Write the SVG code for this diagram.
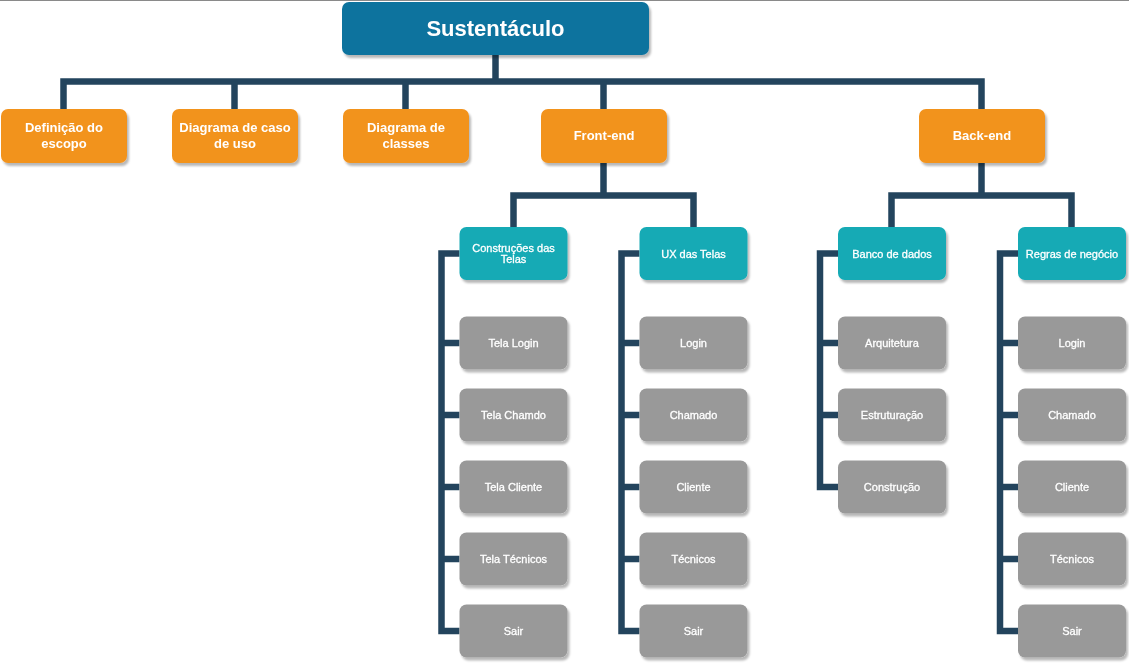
<svg xmlns="http://www.w3.org/2000/svg" width="1129" height="669" viewBox="0 0 1129 669">
<defs>
<filter id="sh" x="-10%" y="-10%" width="130%" height="140%">
<feDropShadow dx="2" dy="3" stdDeviation="0.8" flood-color="#000" flood-opacity="0.28"/>
</filter>
<style>
.c{fill:none;stroke:#23445D;stroke-width:6.5;stroke-linejoin:miter;stroke-linecap:butt}
.box{filter:url(#sh)}
.top{fill:#10739E}
.or{fill:#F2931E}
.tl{fill:#12AAB5}
.gr{fill:#999999}
text{font-family:"Liberation Sans",Arial,sans-serif;fill:#fff;text-anchor:middle}
.t0{font-size:22px;font-weight:bold}
.t1{font-size:13px;font-weight:bold}
.t2{font-size:11px;stroke:#fff;stroke-width:0.3}
</style>
</defs>
<rect x="0" y="0" width="1129" height="669" fill="#fff"/>
<line x1="0" y1="0.5" x2="1129" y2="0.5" stroke="#8a8a8a" stroke-width="1"/>
<g id="connectors">
<path class="c" d="M495.5,55 V81.5"/>
<path class="c" d="M63.5,109 V81.5 H981.5 V109"/>
<path class="c" d="M234.5,81.5 V109"/>
<path class="c" d="M405.5,81.5 V109"/>
<path class="c" d="M603.5,81.5 V109"/>
<path class="c" d="M603.5,163 V195.5"/>
<path class="c" d="M513.5,227 V195.5 H693.5 V227"/>
<path class="c" d="M981.5,163 V195.5"/>
<path class="c" d="M891.5,227 V195.5 H1071.5 V227"/>
<path class="c" d="M459.5,253.5 H441.5 V631 H459.5 M441.5,343 H459.5 M441.5,415 H459.5 M441.5,487 H459.5 M441.5,559 H459.5"/>
<path class="c" d="M639.5,253.5 H621.5 V631 H639.5 M621.5,343 H639.5 M621.5,415 H639.5 M621.5,487 H639.5 M621.5,559 H639.5"/>
<path class="c" d="M838,253.5 H820 V487 H838 M820,343 H838 M820,415 H838"/>
<path class="c" d="M1018,253.5 H1000 V631 H1018 M1000,343 H1018 M1000,415 H1018 M1000,487 H1018 M1000,559 H1018"/>
</g>
<g id="n-root" class="box"><rect class="top" x="342" y="2" width="307" height="53" rx="7"/><text class="t0" x="495.5" y="36">Sustentáculo</text></g>
<g id="n-escopo" class="box"><rect class="or" x="1" y="109" width="126" height="54" rx="7"/><text class="t1" x="64" y="132">Definição do</text><text class="t1" x="64" y="147.5">escopo</text></g>
<g id="n-caso" class="box"><rect class="or" x="172" y="109" width="126" height="54" rx="7"/><text class="t1" x="235" y="132">Diagrama de caso</text><text class="t1" x="235" y="147.5">de uso</text></g>
<g id="n-classes" class="box"><rect class="or" x="343" y="109" width="126" height="54" rx="7"/><text class="t1" x="406" y="132">Diagrama de</text><text class="t1" x="406" y="147.5">classes</text></g>
<g id="n-front" class="box"><rect class="or" x="541" y="109" width="126" height="54" rx="7"/><text class="t1" x="604" y="140">Front-end</text></g>
<g id="n-back" class="box"><rect class="or" x="919" y="109" width="126" height="54" rx="7"/><text class="t1" x="982" y="140">Back-end</text></g>
<g id="n-construcoes" class="box"><rect class="tl" x="459.5" y="227" width="108" height="53" rx="7"/><text class="t2" x="513.5" y="251.5">Construções das</text><text class="t2" x="513.5" y="263">Telas</text></g>
<g id="n-ux" class="box"><rect class="tl" x="639.5" y="227" width="108" height="53" rx="7"/><text class="t2" x="693.5" y="257.5">UX das Telas</text></g>
<g id="n-banco" class="box"><rect class="tl" x="838" y="227" width="108" height="53" rx="7"/><text class="t2" x="892" y="257.5">Banco de dados</text></g>
<g id="n-regras" class="box"><rect class="tl" x="1018" y="227" width="108" height="53" rx="7"/><text class="t2" x="1072" y="257.5">Regras de negócio</text></g>
<g id="n-tela-login" class="box"><rect class="gr" x="459.5" y="316.5" width="108" height="53" rx="7"/><text class="t2" x="513.5" y="347">Tela Login</text></g>
<g id="n-tela-chamdo" class="box"><rect class="gr" x="459.5" y="388.5" width="108" height="53" rx="7"/><text class="t2" x="513.5" y="419">Tela Chamdo</text></g>
<g id="n-tela-cliente" class="box"><rect class="gr" x="459.5" y="460.5" width="108" height="53" rx="7"/><text class="t2" x="513.5" y="491">Tela Cliente</text></g>
<g id="n-tela-tecnicos" class="box"><rect class="gr" x="459.5" y="532.5" width="108" height="53" rx="7"/><text class="t2" x="513.5" y="563">Tela Técnicos</text></g>
<g id="n-tela-sair" class="box"><rect class="gr" x="459.5" y="604.5" width="108" height="53" rx="7"/><text class="t2" x="513.5" y="635">Sair</text></g>
<g id="n-ux-login" class="box"><rect class="gr" x="639.5" y="316.5" width="108" height="53" rx="7"/><text class="t2" x="693.5" y="347">Login</text></g>
<g id="n-ux-chamado" class="box"><rect class="gr" x="639.5" y="388.5" width="108" height="53" rx="7"/><text class="t2" x="693.5" y="419">Chamado</text></g>
<g id="n-ux-cliente" class="box"><rect class="gr" x="639.5" y="460.5" width="108" height="53" rx="7"/><text class="t2" x="693.5" y="491">Cliente</text></g>
<g id="n-ux-tecnicos" class="box"><rect class="gr" x="639.5" y="532.5" width="108" height="53" rx="7"/><text class="t2" x="693.5" y="563">Técnicos</text></g>
<g id="n-ux-sair" class="box"><rect class="gr" x="639.5" y="604.5" width="108" height="53" rx="7"/><text class="t2" x="693.5" y="635">Sair</text></g>
<g id="n-arquitetura" class="box"><rect class="gr" x="838" y="316.5" width="108" height="53" rx="7"/><text class="t2" x="892" y="347">Arquitetura</text></g>
<g id="n-estruturacao" class="box"><rect class="gr" x="838" y="388.5" width="108" height="53" rx="7"/><text class="t2" x="892" y="419">Estruturação</text></g>
<g id="n-construcao" class="box"><rect class="gr" x="838" y="460.5" width="108" height="53" rx="7"/><text class="t2" x="892" y="491">Construção</text></g>
<g id="n-rn-login" class="box"><rect class="gr" x="1018" y="316.5" width="108" height="53" rx="7"/><text class="t2" x="1072" y="347">Login</text></g>
<g id="n-rn-chamado" class="box"><rect class="gr" x="1018" y="388.5" width="108" height="53" rx="7"/><text class="t2" x="1072" y="419">Chamado</text></g>
<g id="n-rn-cliente" class="box"><rect class="gr" x="1018" y="460.5" width="108" height="53" rx="7"/><text class="t2" x="1072" y="491">Cliente</text></g>
<g id="n-rn-tecnicos" class="box"><rect class="gr" x="1018" y="532.5" width="108" height="53" rx="7"/><text class="t2" x="1072" y="563">Técnicos</text></g>
<g id="n-rn-sair" class="box"><rect class="gr" x="1018" y="604.5" width="108" height="53" rx="7"/><text class="t2" x="1072" y="635">Sair</text></g>
</svg>
